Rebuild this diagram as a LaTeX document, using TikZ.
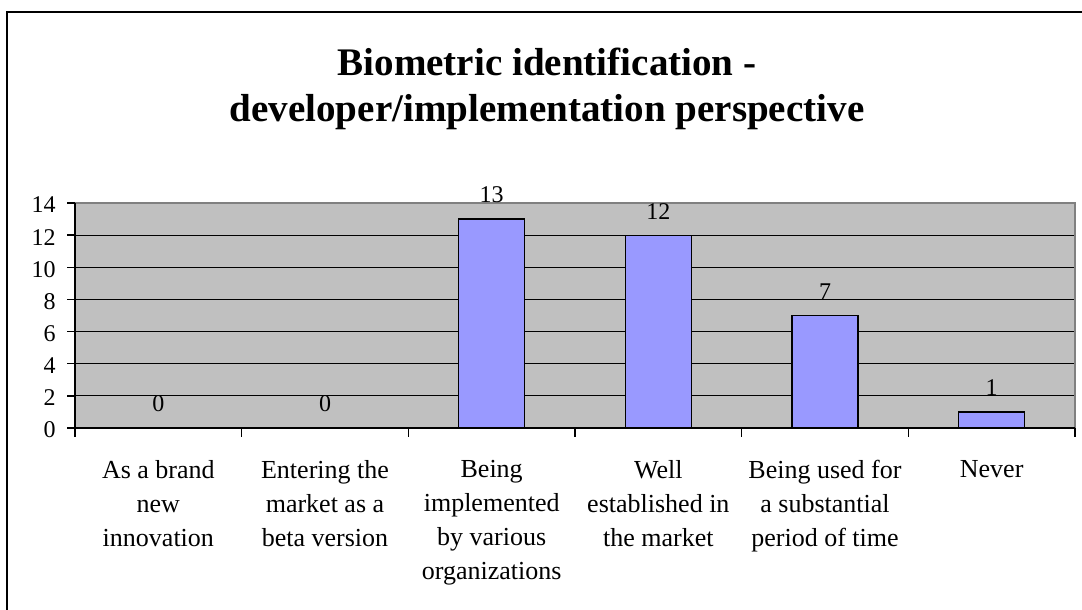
\documentclass[tikz,border=0pt]{standalone}
\usepackage{fontspec}
\setmainfont{Liberation Serif}
\usetikzlibrary{positioning}
\definecolor{plotgrey}{HTML}{C0C0C0}
\definecolor{edgegrey}{HTML}{808080}
\definecolor{barblue}{HTML}{9999FF}
\tikzset{bar/.style={draw=black, fill=barblue, line width=0.9pt}}
\tikzset{catlabel/.style={align=center, anchor=north, inner sep=0pt, font=\fontsize{19.5}{25.5}\selectfont}}
\tikzset{vallabel/.style={inner sep=0pt, font=\fontsize{18}{21}\selectfont}}
\tikzset{ylabel/.style={anchor=east, inner sep=0pt, font=\fontsize{18}{21}\selectfont}}
\tikzstyle{gridline}=[black, line width=0.9pt]

\begin{document}
\begin{tikzpicture}[x=0.75pt,y=-0.75pt]
    \useasboundingbox (0,0) rectangle (1082,610);
    \clip (0,0) rectangle (1082,610);
    \fill[white] (0,0) rectangle (1082,610);
    % outer frame, cut off at right and bottom
    \draw[line width=1.6pt] (7,12) rectangle (1100,630);
    % title
    \node (title) [align=center, anchor=north, inner sep=0pt,
        font=\bfseries\fontsize{29.3}{34.5}\selectfont] at (547,48)
        {Biometric identification -\\developer/implementation perspective};
    % plot area
    \fill[plotgrey] (75,203) rectangle (1075,428);
    \foreach \k in {2,4,...,12}
        \draw[gridline] (75,428-16.07*\k) -- (1075,428-16.07*\k);
    \draw[edgegrey, line width=0.9pt] (75,203) -- (1075,203) -- (1075,428);
    % bars and values
    \foreach \v [count=\i] in {0,0,13,12,7,1} {
        \pgfmathsetmacro\cx{75+166.667*(\i-0.5)}
        \ifnum\v>0
            \draw[bar] (\cx-33,428) rectangle (\cx+33,428-16.07*\v);
        \fi
        \node (val\i) [vallabel] at (\cx,428-16.07*\v-24) {\v};
    }
    % axes
    \draw[line width=1.1pt] (75,203) -- (75,428) -- (1075,428);
    \foreach \k in {0,2,...,14} {
        \draw[line width=1.1pt] (67,428-16.07*\k) -- (75,428-16.07*\k);
        \node (ytick\k) [ylabel] at (56,428-16.07*\k+2) {\k};
    }
    \foreach \j in {0,...,6}
        \draw[line width=1.1pt] (75+166.667*\j,428) -- (75+166.667*\j,437);
    % category labels
    \foreach \t [count=\i] in {As a brand\\new\\innovation,
            Entering the\\market as a\\beta version,
            Being\\implemented\\by various\\organizations,
            Well\\established in\\the market,
            Being used for\\a substantial\\period of time,
            Never} {
        \pgfmathsetmacro\cx{75+166.667*(\i-0.5)}
        \node (cat\i) [catlabel] at (\cx,460) {\t};
    }
\end{tikzpicture}
\end{document}
